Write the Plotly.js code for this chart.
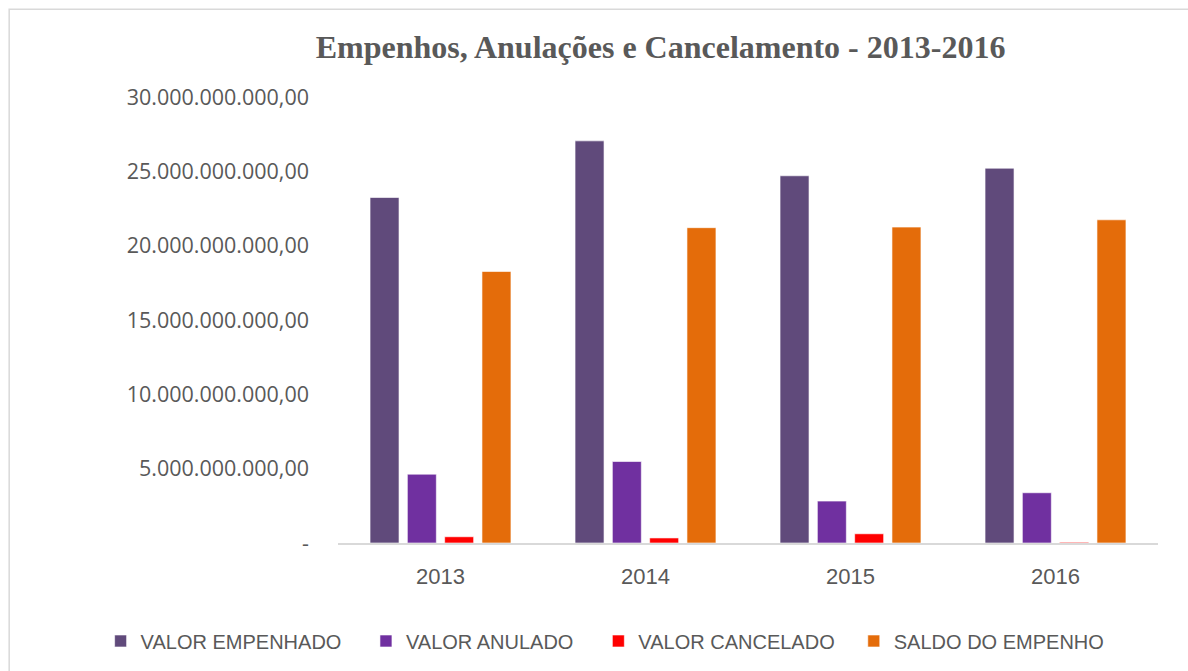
<!DOCTYPE html>
<html>
<head>
<meta charset="utf-8">
<script src="https://cdn.plot.ly/plotly-3.0.1.min.js"></script>
<style>html,body{margin:0;padding:0;background:#fff;}#chart{width:1188px;height:671px;}</style>
</head>
<body>
<div id="chart"></div>
<script>
var years = ["2013", "2014", "2015", "2016"];
var seriesNames = ["VALOR EMPENHADO", "VALOR ANULADO", "VALOR CANCELADO", "SALDO DO EMPENHO"];
var valorEmpenhado = [23.24e9, 27.05e9, 24.70e9, 25.21e9];
var valorAnulado = [4.63e9, 5.48e9, 2.82e9, 3.38e9];
var valorCancelado = [0.42e9, 0.34e9, 0.62e9, 0.05e9];
var saldoEmpenho = [18.26e9, 21.21e9, 21.25e9, 21.74e9];
var yTickVals = [0, 5e9, 10e9, 15e9, 20e9, 25e9, 30e9];
var yTickText = ["-", "5.000.000.000,00", "10.000.000.000,00", "15.000.000.000,00", "20.000.000.000,00", "25.000.000.000,00", "30.000.000.000,00"];
var colors = ["#604A7B", "#7030A0", "#FF0000", "#E46C0A"];
var allValues = [valorEmpenhado, valorAnulado, valorCancelado, saldoEmpenho];

var legendIds = ["legend", "legend2", "legend3", "legend4"];
var legendX = [-0.2895, 0.0341, 0.3175, 0.6290];

var traces = allValues.map(function (vals, i) {
  return {
    type: "bar",
    name: seriesNames[i],
    x: years,
    y: vals,
    legend: legendIds[i],
    marker: { color: colors[i], line: { color: "rgba(255,255,255,0.6)", width: 1 } },
    hoverinfo: "x+y+name"
  };
});

var layout = {
  width: 1188,
  height: 671,
  paper_bgcolor: "#ffffff",
  plot_bgcolor: "#ffffff",
  margin: { l: 338, r: 30, t: 97, b: 127 },
  barmode: "group",
  bargap: 0.272,
  bargroupgap: 0.223,
  title: {
    text: "<b>Empenhos, Anulações e Cancelamento - 2013-2016</b>",
    font: { family: "Liberation Serif, Times New Roman, serif", size: 32, color: "#595959" },
    x: 0.556, xanchor: "center", y: 0.93, yanchor: "middle"
  },
  xaxis: {
    type: "category",
    showgrid: false,
    showline: true,
    linecolor: "#D9D9D9",
    linewidth: 2,
    ticks: "",
    tickfont: { family: "Liberation Sans, Arial, sans-serif", size: 22, color: "#595959" },
    ticklabelstandoff: 13
  },
  yaxis: {
    range: [0, 30e9],
    tickvals: yTickVals,
    ticktext: yTickText,
    showgrid: false,
    zeroline: false,
    showline: false,
    ticks: "",
    tickfont: { family: "Open Sans, sans-serif", size: 21.5, color: "#595959" },
    ticklabelstandoff: 28
  },
  shapes: [
    { type: "rect", xref: "paper", yref: "paper", x0: -0.401, x1: 1.1, y0: -0.5, y1: 1.197,
      line: { color: "#D9D9D9", width: 1.5 }, fillcolor: "rgba(0,0,0,0)", layer: "below" }
  ],
  showlegend: true
};

legendIds.forEach(function (id, i) {
  layout[id] = {
    orientation: "h",
    x: legendX[i], xref: "paper", xanchor: "left",
    y: -0.217, yref: "paper", yanchor: "middle",
    font: { family: "Liberation Sans, Arial, sans-serif", size: 20, color: "#595959" },
    itemwidth: 30,
    bgcolor: "rgba(0,0,0,0)"
  };
});

Plotly.newPlot("chart", traces, layout, { displayModeBar: false, staticPlot: true });
</script>
</body>
</html>
